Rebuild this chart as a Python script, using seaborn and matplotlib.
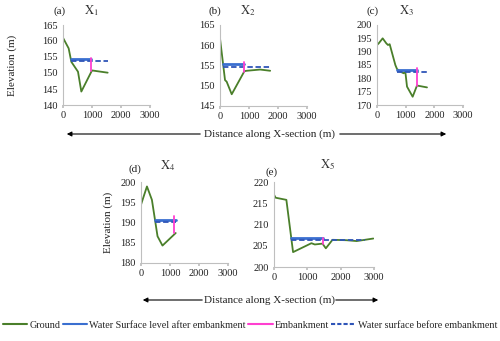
import matplotlib
matplotlib.use("Agg")
import matplotlib.pyplot as plt
import seaborn as sns
import pandas as pd
import numpy as np
from matplotlib.lines import Line2D

sns.set_theme(style="white")
plt.rcParams['font.family'] = ['Liberation Serif', 'DejaVu Serif']
plt.rcParams['mathtext.fontset'] = 'stix'

# ---- data ----
panels = ["(a)", "(b)", "(c)", "(d)", "(e)"]
titles = [r"$\mathrm{X}_1$", r"$\mathrm{X}_2$", r"$\mathrm{X}_3$", r"$\mathrm{X}_4$", r"$\mathrm{X}_5$"]

ground_x = [
    [0, 195, 287, 517, 632, 1000, 1540],
    [0, 173, 230, 404, 842, 923, 1384, 1730],
    [0, 58, 198, 326, 384, 442, 640, 698, 814, 930, 988, 1047, 1244, 1395, 1744],
    [0, 205, 376, 570, 741, 1197],
    [0, 50, 371, 572, 1123, 1224, 1454, 1555, 1755, 2177, 2478, 2979],
]
ground_y = [
    [161, 157.7, 153.5, 150.4, 144.2, 150.8, 150.1],
    [161.7, 151.4, 151.0, 147.9, 153.6, 153.7, 154.0, 153.7],
    [192.5, 193.1, 195.0, 193.1, 192.5, 192.8, 185.0, 183.5, 182.5, 181.9, 182.5, 176.9, 173.1, 177.3, 176.6],
    [194.4, 198.9, 195.6, 186.6, 184.3, 187.4],
    [217.0, 216.3, 215.8, 203.5, 205.6, 205.3, 205.5, 204.4, 206.4, 206.3, 206.1, 206.7],
]
after_x = [[287, 966], [115, 842], [698, 1395], [490, 1197], [522, 1474]]
after_y = [154.4, 155.3, 183.0, 190.5, 206.9]
before_x = [[287, 1540], [115, 1730], [698, 1800], [490, 1197], [522, 2728]]
before_y = [153.8, 154.6, 182.5, 190.2, 206.4]
emb_x = [966, 842, 1395, 1140, 1474]
emb_y = [[154.6, 150.7], [155.8, 153.5], [184.0, 177.3], [191.7, 187.4], [206.9, 205.5]]

ylims = [(140, 165), (145, 165), (170, 200), (180, 200), (200, 220)]
xticks = [0, 1000, 2000, 3000]

c_ground = "#4a7f2a"
c_after = "#3a6fd0"
c_emb = "#ff3fd0"
c_before = "#2f55b8"

W, H = 500, 341
fig = plt.figure(figsize=(W / 100, H / 100), dpi=100)


def px(x0, y_top, x1, y_bot):
    return [x0 / W, 1 - y_bot / H, (x1 - x0) / W, (y_bot - y_top) / H]


boxes = [px(63, 25, 150, 105), px(220, 25, 307, 106), px(377, 25, 463, 105),
         px(141, 182, 228, 263), px(274, 182, 374, 267)]

for i in range(5):
    ax = fig.add_axes(boxes[i])
    dg = pd.DataFrame({"x": ground_x[i], "y": ground_y[i]})
    sns.lineplot(data=dg, x="x", y="y", ax=ax, color=c_ground, lw=1.3, sort=False, estimator=None)
    da = pd.DataFrame({"x": after_x[i], "y": [after_y[i]] * 2})
    sns.lineplot(data=da, x="x", y="y", ax=ax, color=c_after, lw=2.0, sort=False, estimator=None)
    db = pd.DataFrame({"x": before_x[i], "y": [before_y[i]] * 2})
    sns.lineplot(data=db, x="x", y="y", ax=ax, color=c_before, lw=1.3, ls=(0, (3, 1.5)), sort=False, estimator=None)
    de = pd.DataFrame({"x": [emb_x[i]] * 2, "y": emb_y[i]})
    sns.lineplot(data=de, x="x", y="y", ax=ax, color=c_emb, lw=1.3, sort=False, estimator=None)
    ax.set_xlim(0, 3000)
    ax.set_ylim(*ylims[i])
    ax.set_xticks(xticks)
    ax.set_xticklabels([str(t) for t in xticks])
    ax.set_yticks(np.arange(ylims[i][0], ylims[i][1] + 1, 5))
    ax.set_xlabel("")
    ax.set_ylabel("")
    for s in ["top", "right"]:
        ax.spines[s].set_visible(False)
    for s in ["left", "bottom"]:
        ax.spines[s].set_color("#bfbfbf")
        ax.spines[s].set_linewidth(0.8)
    ax.tick_params(axis="both", labelsize=7.5, length=2, color="#bfbfbf", pad=2, labelcolor="#222222")
    ax.tick_params(axis="x", direction="out", bottom=True)
    ax.tick_params(axis="y", left=False)

# panel letters and titles (pixel positions)
lab_pos = [(60, 11), (215, 11), (373, 11), (135, 169), (272, 172)]
tit_pos = [(91, 11), (248, 11), (406, 11), (168, 166), (328, 165)]
for i in range(5):
    fig.text(lab_pos[i][0] / W, 1 - lab_pos[i][1] / H, panels[i], ha="center", va="center", fontsize=8, color="#222222")
    fig.text(tit_pos[i][0] / W, 1 - tit_pos[i][1] / H, titles[i], ha="center", va="center", fontsize=9, color="#333333")

fig.text(12 / W, 1 - 65 / H, "Elevation (m)", rotation=90, ha="center", va="center", fontsize=8, color="#222222")
fig.text(108 / W, 1 - 222 / H, "Elevation (m)", rotation=90, ha="center", va="center", fontsize=8, color="#222222")

# distance arrows
def dist_row(y, l_from, l_to, text_x, r_from, r_to):
    yy = 1 - y / H
    fig.add_artist(matplotlib.patches.FancyArrowPatch((l_from / W, yy), (l_to / W, yy), transform=fig.transFigure,
                                                       arrowstyle="-|>", mutation_scale=7, lw=0.8, color="black"))
    fig.add_artist(matplotlib.patches.FancyArrowPatch((r_from / W, yy), (r_to / W, yy), transform=fig.transFigure,
                                                       arrowstyle="-|>", mutation_scale=7, lw=0.8, color="black"))
    fig.text(text_x / W, yy, "Distance along X-section (m)", ha="center", va="center", fontsize=8, color="#222222")

dist_row(134, 203, 64, 270, 337, 449)
dist_row(300, 205, 140, 270, 333, 381)

handles = [
    Line2D([], [], color=c_ground, lw=1.5),
    Line2D([], [], color=c_after, lw=1.5),
    Line2D([], [], color=c_emb, lw=1.5),
    Line2D([], [], color=c_before, lw=1.5, ls=(0, (2, 1))),
]
labels = ["Ground", "Water Surface level after embankment", "Embankment", "Water surface before embankment"]
fig.legend(handles, labels, loc="center", bbox_to_anchor=(0.5, 1 - 325 / H), ncol=4, frameon=False,
           fontsize=7.3, handlelength=2.4, handletextpad=0.2, columnspacing=0.25, borderaxespad=0)

fig.savefig("out.png", dpi=100, facecolor="white")
